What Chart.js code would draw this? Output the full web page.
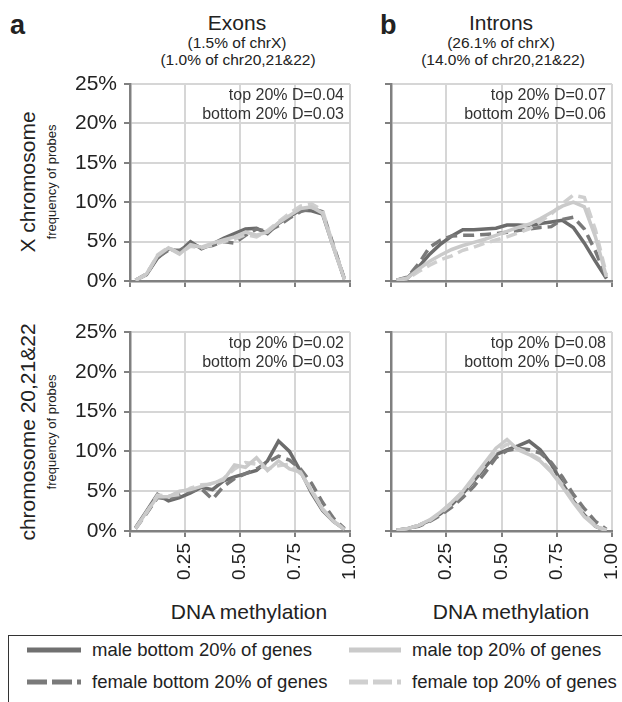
<!DOCTYPE html>
<html>
<head>
<meta charset="utf-8">
<script src="https://cdn.jsdelivr.net/npm/chart.js@4.4.1/dist/chart.umd.min.js"></script>
<style>
  body { margin: 0; background: #fff; font-family: "Liberation Sans", Arial, sans-serif; color: #222; }
  #page { position: relative; width: 622px; height: 702px; overflow: hidden; }
  .abs { position: absolute; white-space: nowrap; }
  canvas { position: absolute; }
  .ctr { transform: translate(-50%, -50%); }
  .rot { transform: translate(-50%, -50%) rotate(-90deg); }
  #legend { position: absolute; left: 8px; top: 635px; width: 700px; height: 100px; border: 1px solid #333; }
  .item { position: absolute; font-size: 18.5px; display: flex; align-items: center; }
  .item svg { margin-right: 11px; }
</style>
</head>
<body>
<div id="page">
  <div class="abs" style="left:10px;top:10px;font-size:27px;font-weight:bold;">a</div>
  <div class="abs" style="left:380px;top:10px;font-size:27px;font-weight:bold;">b</div>

  <div class="abs ctr" style="left:237px;top:23px;font-size:21px;">Exons</div>
  <div class="abs ctr" style="left:237px;top:43px;font-size:15.5px;">(1.5% of chrX)</div>
  <div class="abs ctr" style="left:238px;top:60px;font-size:15.5px;">(1.0% of chr20,21&amp;22)</div>

  <div class="abs ctr" style="left:501px;top:23px;font-size:21px;">Introns</div>
  <div class="abs ctr" style="left:501px;top:43px;font-size:15.5px;">(26.1% of chrX)</div>
  <div class="abs ctr" style="left:503px;top:60px;font-size:15.5px;">(14.0% of chr20,21&amp;22)</div>

  <div class="abs rot" style="left:28px;top:182px;font-size:21px;">X chromosome</div>
  <div class="abs rot" style="left:51px;top:182px;font-size:13px;">frequency of probes</div>
  <div class="abs rot" style="left:28px;top:432px;font-size:21px;">chromosome 20,21&amp;22</div>
  <div class="abs rot" style="left:51px;top:432px;font-size:13px;">frequency of probes</div>

  <div class="abs ctr" style="left:249px;top:612px;font-size:21px;">DNA methylation</div>
  <div class="abs ctr" style="left:511px;top:612px;font-size:21px;">DNA methylation</div>

  <canvas id="exonsX" width="310" height="223" style="left:50px;top:70px;"></canvas>
  <canvas id="intronsX" width="252" height="223" style="left:370px;top:70px;"></canvas>
  <canvas id="exonsAuto" width="310" height="271" style="left:50px;top:320px;"></canvas>
  <canvas id="intronsAuto" width="252" height="271" style="left:370px;top:320px;"></canvas>

  <div id="legend">
    <div class="item" style="left:18px;top:3px;">
      <svg width="54" height="8"><line x1="0" y1="4" x2="54" y2="4" stroke="#707070" stroke-width="5"/></svg>male bottom 20% of genes</div>
    <div class="item" style="left:340px;top:3px;">
      <svg width="52" height="8"><line x1="0" y1="4" x2="52" y2="4" stroke="#cacaca" stroke-width="5"/></svg>male top 20% of genes</div>
    <div class="item" style="left:18px;top:35px;">
      <svg width="54" height="8"><line x1="0" y1="4" x2="54" y2="4" stroke="#7a7a7a" stroke-width="5" stroke-dasharray="20 5"/></svg>female bottom 20% of genes</div>
    <div class="item" style="left:340px;top:35px;">
      <svg width="52" height="8"><line x1="0" y1="4" x2="52" y2="4" stroke="#cfcfcf" stroke-width="5" stroke-dasharray="19 5"/></svg>female top 20% of genes</div>
  </div>
</div>

<script>
// bin centres of DNA methylation
const methylation = [0.025, 0.075, 0.125, 0.175, 0.225, 0.275, 0.325, 0.375, 0.425, 0.475,
                     0.525, 0.575, 0.625, 0.675, 0.725, 0.775, 0.825, 0.875, 0.925, 0.975];
const xTickValues = [0.25, 0.5, 0.75, 1.0];
const yTickValues = [0, 5, 10, 15, 20, 25];

// exons, X chromosome (% of probes)
const exonsX_maleBottom   = [0.1, 0.8, 2.9, 4.1, 3.7, 5.0, 4.1, 4.7, 5.4, 6.0, 6.6, 6.7, 6.0, 7.3, 8.2, 9.0, 8.9, 8.5, 4.3, 0.2];
const exonsX_femaleBottom = [0.1, 0.9, 3.0, 3.9, 3.9, 4.6, 4.3, 4.5, 5.0, 4.8, 5.8, 6.6, 6.3, 7.0, 8.0, 8.8, 9.2, 8.8, 4.5, 0.2];
const exonsX_maleTop      = [0.1, 0.9, 3.2, 4.2, 3.4, 4.6, 4.3, 4.8, 5.2, 5.6, 6.2, 5.8, 6.2, 7.4, 8.3, 9.2, 9.4, 8.6, 4.2, 0.2];
const exonsX_femaleTop    = [0.1, 0.8, 3.3, 4.3, 3.5, 4.4, 4.2, 4.6, 5.0, 5.3, 5.9, 5.6, 6.4, 7.5, 8.6, 9.5, 9.8, 9.0, 4.4, 0.2];

// introns, X chromosome
const intronsX_maleBottom   = [0.1, 0.4, 1.8, 3.4, 4.7, 5.7, 6.5, 6.5, 6.6, 6.7, 7.1, 7.1, 7.0, 7.3, 7.5, 7.7, 6.8, 4.8, 2.5, 0.3];
const intronsX_femaleBottom = [0.1, 0.5, 2.2, 4.3, 5.2, 5.7, 5.8, 5.8, 5.9, 6.0, 6.2, 6.4, 6.6, 6.8, 6.9, 7.8, 8.1, 6.6, 3.8, 0.4];
const intronsX_maleTop      = [0.1, 0.4, 1.5, 2.5, 3.3, 4.0, 4.5, 4.9, 5.3, 5.8, 6.3, 6.8, 7.2, 7.9, 8.7, 9.5, 10.0, 9.4, 5.6, 0.5];
const intronsX_femaleTop    = [0.1, 0.3, 1.2, 2.0, 2.7, 3.2, 3.9, 4.3, 4.8, 5.2, 5.6, 6.1, 6.6, 7.5, 8.5, 9.8, 10.9, 10.6, 6.5, 0.8];

// exons, chromosome 20,21&22
const exonsAuto_maleBottom   = [0.4, 2.5, 4.6, 3.8, 4.2, 4.8, 5.5, 5.2, 6.3, 6.8, 7.2, 7.6, 8.8, 11.3, 10.0, 7.5, 4.8, 2.6, 1.2, 0.2];
const exonsAuto_femaleBottom = [0.3, 2.2, 4.2, 4.0, 4.5, 5.0, 5.3, 4.0, 5.6, 6.6, 7.2, 7.8, 8.6, 9.4, 8.9, 7.8, 6.0, 3.6, 1.6, 0.3];
const exonsAuto_maleTop      = [0.3, 2.4, 4.3, 4.3, 5.0, 5.2, 5.6, 6.0, 6.4, 8.3, 8.0, 9.2, 7.6, 8.8, 7.8, 7.4, 5.0, 2.7, 1.2, 0.2];
const exonsAuto_femaleTop    = [0.3, 2.3, 4.5, 4.4, 4.6, 5.4, 5.8, 5.9, 6.6, 7.8, 8.6, 8.4, 7.8, 8.2, 8.4, 7.2, 5.2, 2.8, 1.3, 0.2];

// introns, chromosome 20,21&22
const intronsAuto_maleBottom   = [0.1, 0.3, 0.7, 1.3, 2.2, 3.3, 4.7, 6.3, 8.0, 9.6, 10.2, 10.7, 11.3, 10.2, 8.4, 6.0, 3.8, 2.0, 0.6, 0.0];
const intronsAuto_femaleBottom = [0.1, 0.3, 0.6, 1.2, 2.0, 3.0, 4.2, 5.6, 7.3, 9.2, 10.1, 10.4, 10.2, 9.8, 8.6, 6.8, 4.6, 2.8, 1.2, 0.2];
const intronsAuto_maleTop      = [0.1, 0.3, 0.7, 1.4, 2.4, 3.6, 5.0, 6.8, 8.6, 10.4, 11.5, 10.2, 9.6, 8.8, 7.4, 5.6, 3.6, 1.8, 0.6, 0.0];
const intronsAuto_femaleTop    = [0.1, 0.3, 0.7, 1.3, 2.3, 3.4, 4.8, 6.5, 8.3, 10.0, 10.9, 10.3, 9.8, 9.0, 7.6, 5.8, 3.8, 2.0, 0.7, 0.1];

const FONT = '"Liberation Sans", Arial, sans-serif';

// the D statistics in the top right corner
const dTextPlugin = {
  id: 'dText',
  afterDraw(chart, args, opts) {
    const { ctx, chartArea } = chart;
    ctx.save();
    ctx.font = '16px ' + FONT;
    ctx.fillStyle = '#333';
    ctx.textAlign = 'right';
    ctx.textBaseline = 'middle';
    ctx.fillText(opts.lines[0], chartArea.right - 6, chartArea.top + 12);
    ctx.fillText(opts.lines[1], chartArea.right - 6, chartArea.top + 31);
    ctx.restore();
  }
};

function series(label, values, color, dashed) {
  return {
    label: label,
    data: methylation.map((m, i) => ({ x: m, y: values[i] })),
    borderColor: color,
    borderWidth: 3.5,
    borderDash: dashed ? [11, 6] : [],
    pointRadius: 0,
    tension: 0,
    fill: false
  };
}

function drawPanel(id, sets, opt) {
  new Chart(document.getElementById(id), {
    type: 'line',
    data: {
      datasets: [
        series('male top 20% of genes', sets[2], '#cacaca', false),
        series('female top 20% of genes', sets[3], '#cfcfcf', true),
        series('female bottom 20% of genes', sets[1], '#7a7a7a', true),
        series('male bottom 20% of genes', sets[0], '#6c6c6c', false)
      ]
    },
    options: {
      responsive: false,
      animation: false,
      layout: { padding: { top: opt.padTop, right: 10, left: 0, bottom: 0 } },
      plugins: { legend: { display: false }, tooltip: { enabled: false }, dText: { lines: opt.dLines } },
      scales: {
        x: {
          type: 'linear', min: 0, max: 1,
          afterBuildTicks: s => { s.ticks = [0].concat(xTickValues).map(v => ({ value: v })); },
          afterFit: s => { s.height = opt.xHeight; s.paddingLeft = 0; s.paddingRight = 0; },
          grid: { color: '#d6d6d6', lineWidth: 2, tickLength: 6, tickColor: '#808080', tickWidth: 2 },
          border: { color: '#808080', width: 2.5 },
          ticks: {
            display: opt.xLabels, autoSkip: false, minRotation: 90, maxRotation: 90, padding: 6,
            color: '#222', font: { family: FONT, size: 19 },
            callback: v => (v === 0 ? '' : v.toFixed(2))
          }
        },
        y: {
          min: 0, max: 25,
          afterBuildTicks: s => { s.ticks = yTickValues.map(v => ({ value: v })); },
          afterFit: s => { s.width = opt.yWidth; s.paddingTop = 0; s.paddingBottom = 0; },
          grid: { color: '#d6d6d6', lineWidth: 2, tickLength: 6, tickColor: '#808080', tickWidth: 2 },
          border: { color: '#808080', width: 2.5 },
          ticks: {
            display: opt.yLabels, padding: 7, color: '#222', font: { family: FONT, size: 21 },
            callback: v => v + '%'
          }
        }
      }
    },
    plugins: [dTextPlugin]
  });
}

drawPanel('exonsX', [exonsX_maleBottom, exonsX_femaleBottom, exonsX_maleTop, exonsX_femaleTop],
  { padTop: 14, xHeight: 12, yWidth: 80, xLabels: false, yLabels: true, dLines: ['top 20% D=0.04', 'bottom 20% D=0.03'] });
drawPanel('intronsX', [intronsX_maleBottom, intronsX_femaleBottom, intronsX_maleTop, intronsX_femaleTop],
  { padTop: 14, xHeight: 12, yWidth: 21, xLabels: false, yLabels: false, dLines: ['top 20% D=0.07', 'bottom 20% D=0.06'] });
drawPanel('exonsAuto', [exonsAuto_maleBottom, exonsAuto_femaleBottom, exonsAuto_maleTop, exonsAuto_femaleTop],
  { padTop: 12, xHeight: 60, yWidth: 80, xLabels: true, yLabels: true, dLines: ['top 20% D=0.02', 'bottom 20% D=0.03'] });
drawPanel('intronsAuto', [intronsAuto_maleBottom, intronsAuto_femaleBottom, intronsAuto_maleTop, intronsAuto_femaleTop],
  { padTop: 12, xHeight: 60, yWidth: 21, xLabels: true, yLabels: false, dLines: ['top 20% D=0.08', 'bottom 20% D=0.08'] });
</script>
</body>
</html>
